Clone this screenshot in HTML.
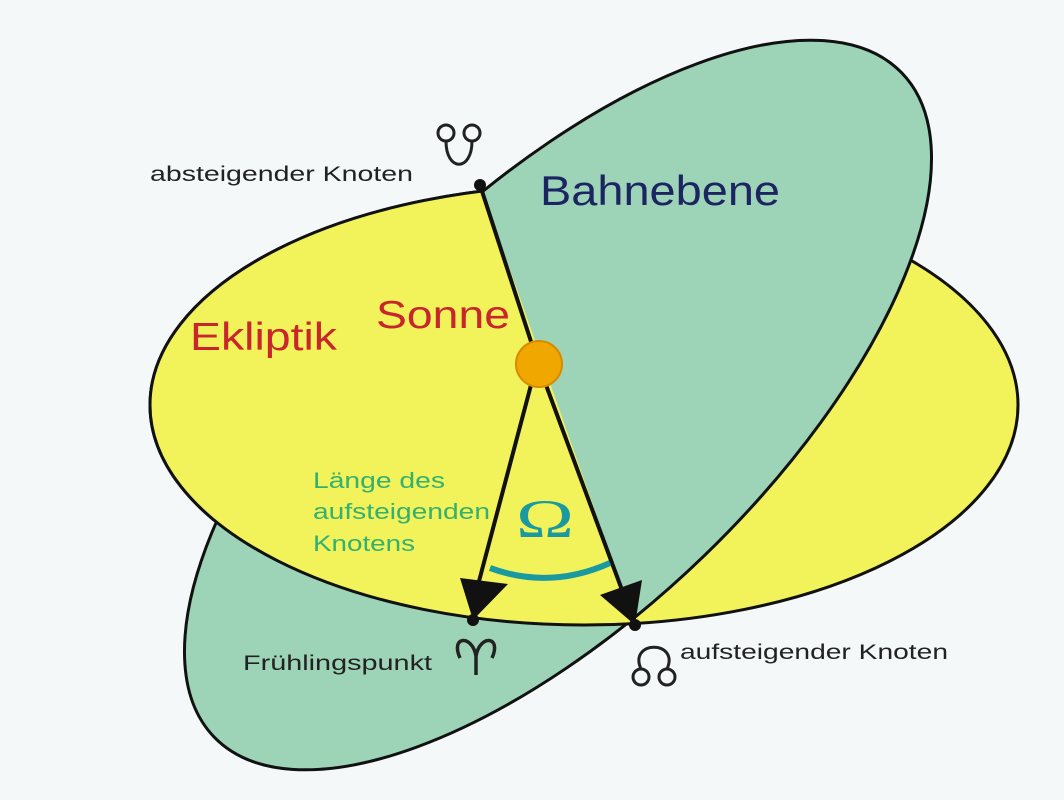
<!DOCTYPE html>
<html><head><meta charset="utf-8"><style>
html,body{margin:0;padding:0;background:#f4f8f8;overflow:hidden;}
svg{display:block;font-family:"Liberation Sans",sans-serif;}
</style></head><body>
<svg width="1064" height="800" viewBox="0 0 1064 800">
<rect width="1064" height="800" fill="#f4f8f8"/>
<defs>
<clipPath id="lc"><polygon points="0,0 415,0 697,800 0,800"/></clipPath>
</defs>
<ellipse cx="584" cy="405" rx="434" ry="220" fill="#f2f25a" stroke="#111" stroke-width="3"/>
<ellipse cx="558" cy="405" rx="478" ry="210" transform="rotate(-44 558 405)" fill="#9dd4b8" stroke="#111" stroke-width="3"/>
<g clip-path="url(#lc)">
<ellipse cx="584" cy="405" rx="434" ry="220" fill="#f2f25a" stroke="#111" stroke-width="3"/>
</g>
<line x1="480" y1="185" x2="538" y2="363" stroke="#111" stroke-width="4"/>
<line x1="546" y1="385" x2="622" y2="590" stroke="#111" stroke-width="4"/>
<polygon points="600,595 642,580 635,625" fill="#111"/>
<line x1="531" y1="385" x2="478" y2="585" stroke="#111" stroke-width="4"/>
<polygon points="460,578 508,584 473,620" fill="#111"/>
<path d="M490,568 Q550,590 610,563" fill="none" stroke="#1a9aa0" stroke-width="6"/>
<circle cx="539" cy="364" r="23" fill="#f0a800" stroke="#d88a00" stroke-width="2"/>
<circle cx="480" cy="185" r="6" fill="#111"/>
<circle cx="473" cy="620" r="6" fill="#111"/>
<circle cx="635" cy="625" r="6" fill="#111"/>
<g fill="none" stroke="#222" stroke-width="3">
<circle cx="446" cy="133" r="8"/><circle cx="472" cy="133" r="8"/>
<path d="M446,141 C446,172 472,172 472,141"/>
<circle cx="641" cy="677" r="8"/><circle cx="667" cy="677" r="8"/>
<path d="M641,669 C628,640 680,640 667,669"/>
<path d="M460,658 C450,636 472,634 476,656 L476,675 M476,656 C480,634 502,636 492,658" stroke-width="3.5"/>
</g>
<text x="150" y="181" font-size="21" fill="#222" textLength="263" lengthAdjust="spacingAndGlyphs">absteigender Knoten</text>
<text x="540" y="205" font-size="42" fill="#1c2462" textLength="240" lengthAdjust="spacingAndGlyphs">Bahnebene</text>
<text x="376" y="328" font-size="39" fill="#c8262c" textLength="134" lengthAdjust="spacingAndGlyphs">Sonne</text>
<text x="190" y="350" font-size="39" fill="#c8262c" textLength="147" lengthAdjust="spacingAndGlyphs">Ekliptik</text>
<g font-size="22" fill="#34b070">
<text x="313" y="488" textLength="132" lengthAdjust="spacingAndGlyphs">Länge des</text>
<text x="313" y="519" textLength="177" lengthAdjust="spacingAndGlyphs">aufsteigenden</text>
<text x="313" y="551" textLength="102" lengthAdjust="spacingAndGlyphs">Knotens</text>
</g>
<text x="516" y="537" font-size="54" fill="#1a9aa0" font-family="Liberation Serif,serif" textLength="58" lengthAdjust="spacingAndGlyphs">Ω</text>
<text x="243" y="670" font-size="21" fill="#222" textLength="189" lengthAdjust="spacingAndGlyphs">Frühlingspunkt</text>
<text x="680" y="659" font-size="21" fill="#222" textLength="268" lengthAdjust="spacingAndGlyphs">aufsteigender Knoten</text>
</svg>
</body></html>
